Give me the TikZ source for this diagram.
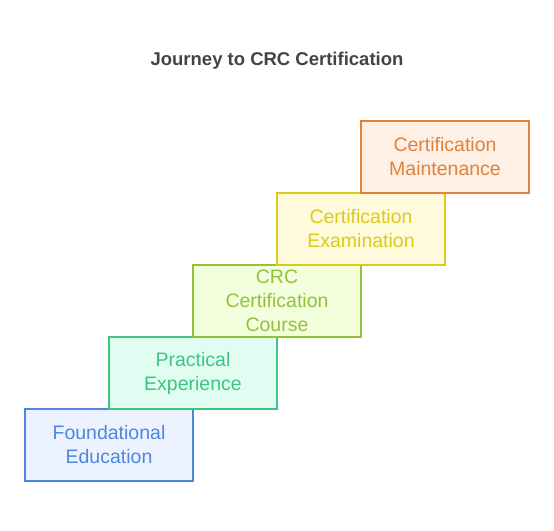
\documentclass[tikz,border=0pt]{standalone}
\usepackage{fontspec}
\setmainfont{Liberation Sans}
\begin{document}
\begin{tikzpicture}[x=1pt,y=-1pt,
  stepbox/.style={draw=#1, line width=2pt, minimum width=168pt, minimum height=72pt, inner sep=0pt, align=center, text=#1, font=\fontsize{19.5}{24}\selectfont},
  ttl/.style={font=\bfseries\fontsize{18.5}{20}\selectfont, text=titlegray}]
\definecolor{titlegray}{HTML}{444444}
\definecolor{cblue}{HTML}{4F87E0}
\definecolor{cgreen}{HTML}{3CC583}
\definecolor{clime}{HTML}{93C13C}
\definecolor{cyellow}{HTML}{DCCB1A}
\definecolor{corange}{HTML}{E0823A}
\definecolor{fblue}{HTML}{ECF2FE}
\definecolor{fgreen}{HTML}{E1FCF0}
\definecolor{flime}{HTML}{F3FEDD}
\definecolor{fyellow}{HTML}{FEFADB}
\definecolor{forange}{HTML}{FEF0E4}
\useasboundingbox (0,0) rectangle (554,530);
\node[ttl] (title) at (277,61) {Journey to CRC Certification};
\node[stepbox=cblue, fill=fblue] (s1) at (109,445) {Foundational\\Education};
\node[stepbox=cgreen, fill=fgreen] (s2) at (193,373) {Practical\\Experience};
\node[stepbox=clime, fill=flime] (s3) at (277,301) {CRC\\Certification\\Course};
\node[stepbox=cyellow, fill=fyellow] (s4) at (361,229) {Certification\\Examination};
\node[stepbox=corange, fill=forange] (s5) at (445,157) {Certification\\Maintenance};
\end{tikzpicture}
\end{document}
